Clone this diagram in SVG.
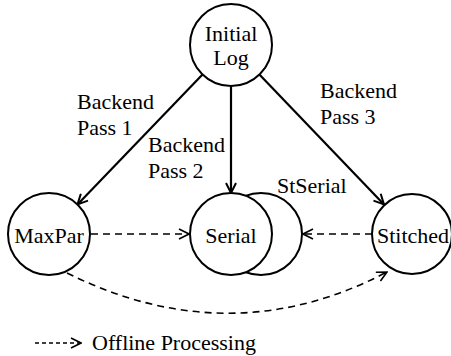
<svg xmlns="http://www.w3.org/2000/svg" width="451" height="356" viewBox="0 0 451 356">
<defs>
<marker id="ah" viewBox="0 0 12 12" refX="11" refY="6" markerWidth="12" markerHeight="12" markerUnits="userSpaceOnUse" orient="auto">
<path d="M1,1 L11,6 L1,11" fill="none" stroke="#000" stroke-width="2"/>
</marker>
<marker id="ahd" viewBox="0 0 12 12" refX="11" refY="6" markerWidth="12" markerHeight="12" markerUnits="userSpaceOnUse" orient="auto">
<path d="M1,1 L11,6 L1,11" fill="none" stroke="#000" stroke-width="1.6"/>
</marker>
</defs>
<g id="connectors" fill="none" stroke="#000">
<g stroke-width="2.2" marker-end="url(#ah)">
<line x1="202.5" y1="74.6" x2="77.5" y2="204.4"/>
<line x1="231" y1="86" x2="231" y2="193"/>
<line x1="259.4" y1="74.6" x2="384" y2="204.4"/>
</g>
<g stroke-width="1.6" stroke-dasharray="7,5" marker-end="url(#ahd)">
<line x1="91" y1="234" x2="189" y2="234"/>
<line x1="372" y1="234" x2="303" y2="234"/>
<path d="M67,273 Q230,354 387,272"/>
</g>
</g>
<g fill="#fff" stroke="#000" stroke-width="2">
<g id="initial">
<circle cx="231" cy="45" r="41"/>
</g>
<g id="maxpar">
<circle cx="49" cy="234" r="41"/>
</g>
<g id="stserial">
<circle cx="261" cy="234" r="41"/>
</g>
<g id="serial">
<circle cx="231" cy="234" r="41"/>
</g>
<g id="stitched">
<circle cx="412" cy="234" r="40"/>
</g>
</g>
<text x="231" y="41" text-anchor="middle" font-family="Liberation Serif" font-size="22">Initial</text>
<text x="231" y="65" text-anchor="middle" font-family="Liberation Serif" font-size="22">Log</text>
<text x="49" y="243" text-anchor="middle" font-family="Liberation Serif" font-size="22">MaxPar</text>
<text x="277" y="193" font-family="Liberation Serif" font-size="22">StSerial</text>
<text x="231" y="243" text-anchor="middle" font-family="Liberation Serif" font-size="22">Serial</text>
<text x="413" y="243" text-anchor="middle" font-family="Liberation Serif" font-size="22">Stitched</text>
<text x="77" y="109" font-family="Liberation Serif" font-size="22">Backend</text>
<text x="77" y="135" font-family="Liberation Serif" font-size="22">Pass 1</text>
<text x="148" y="152" font-family="Liberation Serif" font-size="22">Backend</text>
<text x="148" y="178" font-family="Liberation Serif" font-size="22">Pass 2</text>
<text x="320" y="98" font-family="Liberation Serif" font-size="22">Backend</text>
<text x="320" y="124" font-family="Liberation Serif" font-size="22">Pass 3</text>
<g id="legend">
<line x1="35" y1="343" x2="81" y2="343" fill="none" stroke="#000" stroke-width="1.6" stroke-dasharray="4,3" marker-end="url(#ahd)"/>
<text x="92" y="350" font-family="Liberation Serif" font-size="22">Offline Processing</text>
</g>
</svg>
